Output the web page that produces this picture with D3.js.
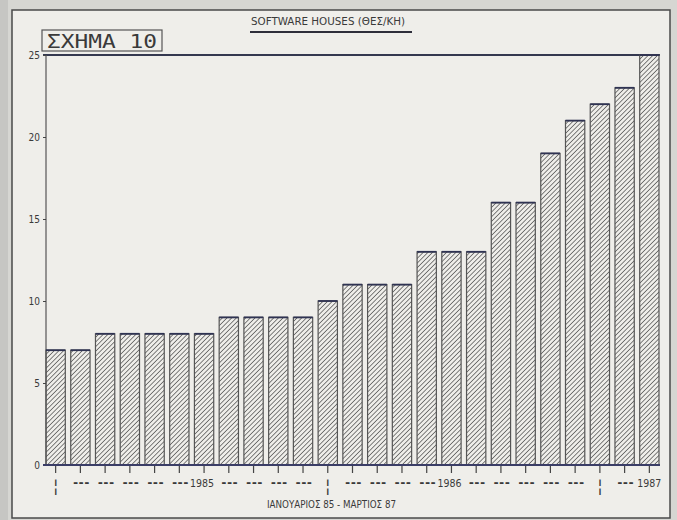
<!DOCTYPE html>
<html>
<head>
<meta charset="utf-8">
<script src="https://cdn.jsdelivr.net/npm/d3@7"></script>
<style>
  body { margin: 0; background: #d6d6d2; }
  svg { display: block; }
  .small { font-family: "DejaVu Sans Condensed", "Liberation Sans Narrow", "DejaVu Sans", sans-serif; font-stretch: condensed; fill: #3a3a3a; }
  .mono { font-family: "DejaVu Sans Mono", "Liberation Mono", monospace; fill: #3a3a3a; }
</style>
</head>
<body>
<svg id="chart"></svg>
<script>
// values per bar, Jan 85 - Mar 87
const values = [7, 7, 8, 8, 8, 8, 8, 9, 9, 9, 9, 10, 11, 11, 11, 13, 13, 13, 16, 16, 19, 21, 22, 23, 25];
const xLabels = ['|', '---', '---', '---', '---', '---', '1985', '---', '---', '---', '---',
                 '|', '---', '---', '---', '---', '1986', '---', '---', '---', '---', '---',
                 '|', '---', '1987'];
const yTicks = [0, 5, 10, 15, 20, 25];
const title = 'SOFTWARE HOUSES  (ΘΕΣ/ΚΗ)';
const figLabel = 'ΣΧΗΜΑ  10';
const caption = 'ΙΑΝΟΥΑΡΙΟΣ 85 - ΜΑΡΤΙΟΣ 87';

class HatchBars {
  constructor(_config, _data) {
    this.config = {
      parentElement: _config.parentElement,
      containerWidth: _config.containerWidth || 677,
      containerHeight: _config.containerHeight || 520,
      margin: _config.margin || {top: 55, right: 17, bottom: 55, left: 46}
    };
    this.data = _data;
    this.initVis();
  }

  initVis() {
    let vis = this;
    vis.width = vis.config.containerWidth - vis.config.margin.left - vis.config.margin.right;
    vis.height = vis.config.containerHeight - vis.config.margin.top - vis.config.margin.bottom;

    vis.svg = d3.select(vis.config.parentElement)
        .attr('width', vis.config.containerWidth)
        .attr('height', vis.config.containerHeight);

    // paper / frame
    vis.svg.append('rect').attr('x', 0).attr('y', 0).attr('width', 8).attr('height', 520).attr('fill', '#c6c6c3');
    vis.svg.append('rect')
        .attr('x', 12).attr('y', 10).attr('width', 658).attr('height', 508)
        .attr('fill', '#efeeea').attr('stroke', '#4a4a4a').attr('stroke-width', 1.5);

    // hatch pattern
    vis.svg.append('defs').append('pattern')
        .attr('id', 'hatch')
        .attr('patternUnits', 'userSpaceOnUse')
        .attr('width', 3.3).attr('height', 3.3)
        .attr('patternTransform', 'rotate(45)')
      .append('line')
        .attr('x1', 0).attr('y1', 0).attr('x2', 0).attr('y2', 3.3)
        .attr('stroke', '#4e4e4e').attr('stroke-width', 1.4);

    vis.xScale = d3.scaleBand()
        .domain(d3.range(vis.data.length))
        .range([0, vis.width - 1])
        .paddingInner(0.22)
        .paddingOuter(0);

    vis.yScale = d3.scaleLinear()
        .domain([0, 25])
        .range([vis.height, 0]);

    vis.chart = vis.svg.append('g')
        .attr('transform', `translate(${vis.config.margin.left},${vis.config.margin.top})`);

    // title + underline
    vis.svg.append('text')
        .attr('class', 'small')
        .attr('x', 251).attr('y', 25)
        .attr('font-size', 10)
        .attr('textLength', 154)
        .attr('lengthAdjust', 'spacingAndGlyphs')
        .text(title);
    vis.svg.append('line')
        .attr('x1', 250).attr('x2', 412).attr('y1', 32).attr('y2', 32)
        .attr('stroke', '#2e2e3a').attr('stroke-width', 2.2);

    // figure label box
    vis.svg.append('rect')
        .attr('x', 42).attr('y', 30).attr('width', 120).attr('height', 21)
        .attr('fill', 'none').attr('stroke', '#555').attr('stroke-width', 1.2);
    vis.svg.append('text')
        .attr('class', 'mono')
        .attr('x', 47).attr('y', 48)
        .attr('font-size', 19)
        .attr('textLength', 110)
        .attr('lengthAdjust', 'spacingAndGlyphs')
        .text(figLabel);

    // caption
    vis.svg.append('text')
        .attr('class', 'small')
        .attr('x', 267).attr('y', 508)
        .attr('font-size', 10)
        .attr('textLength', 129)
        .attr('lengthAdjust', 'spacingAndGlyphs')
        .text(caption);

    vis.renderVis();
  }

  renderVis() {
    let vis = this;

    // top rule and left axis line
    vis.chart.append('line')
        .attr('x1', -3).attr('x2', vis.width).attr('y1', 0).attr('y2', 0)
        .attr('stroke', '#34384f').attr('stroke-width', 1.8);
    vis.chart.append('line')
        .attr('x1', 0).attr('x2', 0).attr('y1', 0).attr('y2', vis.height)
        .attr('stroke', '#555').attr('stroke-width', 1.2);

    // bars
    const bars = vis.chart.selectAll('.bar')
        .data(vis.data)
      .join('g')
        .attr('class', 'bar');

    bars.append('rect')
        .attr('x', (d, i) => vis.xScale(i))
        .attr('y', d => vis.yScale(d))
        .attr('width', vis.xScale.bandwidth())
        .attr('height', d => vis.height - vis.yScale(d))
        .attr('fill', 'url(#hatch)')
        .attr('stroke', '#555')
        .attr('stroke-width', 1.2);

    bars.append('line')
        .attr('x1', (d, i) => vis.xScale(i))
        .attr('x2', (d, i) => vis.xScale(i) + vis.xScale.bandwidth())
        .attr('y1', d => vis.yScale(d))
        .attr('y2', d => vis.yScale(d))
        .attr('stroke', '#2f3352')
        .attr('stroke-width', 1.8);

    // y axis
    vis.yAxis = d3.axisLeft(vis.yScale)
        .tickValues(yTicks)
        .tickSize(3)
        .tickPadding(3)
        .tickFormat(d3.format('d'));

    vis.chart.append('g')
        .attr('class', 'axis y-axis')
        .call(vis.yAxis)
        .call(g => g.select('.domain').remove())
        .call(g => g.selectAll('line').attr('stroke', '#444'))
        .call(g => g.selectAll('text')
            .attr('class', 'small')
            .attr('font-size', 10)
            .style('fill', '#3a3a3a'));

    // x axis ticks
    vis.xAxis = d3.axisBottom(vis.xScale)
        .tickSize(8)
        .tickFormat('');

    vis.chart.append('g')
        .attr('class', 'axis x-axis')
        .attr('transform', `translate(0,${vis.height})`)
        .call(vis.xAxis)
        .call(g => g.select('.domain').remove())
        .call(g => g.selectAll('line').attr('stroke', '#444').attr('stroke-width', 1.2));

    vis.chart.append('line')
        .attr('x1', -3).attr('x2', vis.width).attr('y1', vis.height).attr('y2', vis.height)
        .attr('stroke', '#3a3d66').attr('stroke-width', 1.8);

    // period labels under each bar
    vis.chart.selectAll('.xlab')
        .data(xLabels)
      .join('text')
        .attr('class', d => d === '---' ? 'mono' : 'small')
        .attr('x', (d, i) => vis.xScale(i) + vis.xScale.bandwidth() / 2 - (d === '1985' || d === '1986' ? 2 : 0))
        .attr('y', d => d === '|' ? vis.height + 27 : vis.height + 22)
        .attr('text-anchor', 'middle')
        .attr('font-size', d => d === '|' ? 18 : d === '---' ? 12 : 10.5)
        .attr('font-weight', d => d === '---' ? 'bold' : 'normal')
        .attr('letter-spacing', d => d === '---' ? -1.6 : 0)
        .text(d => d === '|' ? '¦' : d);
  }
}

new HatchBars({parentElement: '#chart'}, values);
</script>
</body>
</html>
